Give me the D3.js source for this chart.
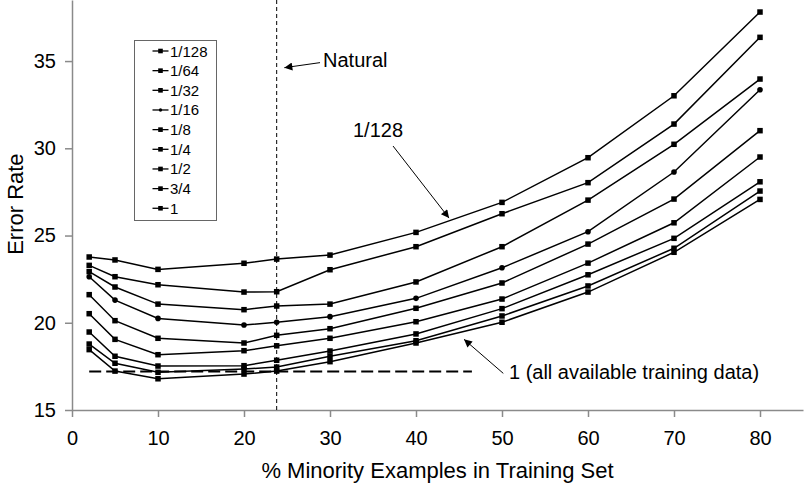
<!DOCTYPE html>
<html>
<head>
<meta charset="utf-8">
<script src="https://cdn.jsdelivr.net/npm/d3@7"></script>
<style>
  body { margin: 0; background: #fff; }
  svg { display: block; font-family: "Liberation Sans", Arial, sans-serif; }
</style>
</head>
<body>
<div id="chart"></div>
<script>
// % minority examples in the training set
var minorityPct = [2, 5, 10, 20, 23.8, 30, 40, 50, 60, 70, 80];

// fraction of available training data used
var seriesNames = ["1/128", "1/64", "1/32", "1/16", "1/8", "1/4", "1/2", "3/4", "1"];

var err_1_128 = [23.77, 23.60, 23.06, 23.41, 23.65, 23.88, 25.18, 26.90, 29.46, 33.01, 37.81];
var err_1_64  = [23.29, 22.64, 22.18, 21.76, 21.78, 23.04, 24.36, 26.25, 28.03, 31.39, 36.36];
var err_1_32  = [22.93, 22.05, 21.07, 20.75, 20.96, 21.07, 22.34, 24.36, 27.03, 30.23, 33.97];
var err_1_16  = [22.64, 21.30, 20.25, 19.87, 20.03, 20.35, 21.40, 23.15, 25.22, 28.64, 33.36];
var err_1_8   = [21.61, 20.12, 19.11, 18.84, 19.28, 19.66, 20.83, 22.28, 24.51, 27.09, 31.01];
var err_1_4   = [20.52, 19.05, 18.17, 18.40, 18.68, 19.11, 20.06, 21.36, 23.42, 25.73, 29.50];
var err_1_2   = [19.47, 18.08, 17.52, 17.54, 17.85, 18.38, 19.36, 20.81, 22.75, 24.84, 28.08];
var err_3_4   = [18.78, 17.68, 17.16, 17.35, 17.46, 18.08, 18.97, 20.39, 22.11, 24.27, 27.55];
var err_1     = [18.46, 17.23, 16.79, 17.06, 17.23, 17.77, 18.84, 20.03, 21.76, 24.04, 27.07];

var seriesValues = [err_1_128, err_1_64, err_1_32, err_1_16, err_1_8, err_1_4, err_1_2, err_3_4, err_1];

var xTicks = [0, 10, 20, 30, 40, 50, 60, 70, 80];
var yTicks = [15, 20, 25, 30, 35];

var naturalPct = 23.8;
var bestError = 17.2;          // "all available training data" reference level
var bestSpan = [2, 46.5];

var width = 804, height = 486;
var margin = { left: 72, right: 1, top: 0, bottom: 76 };

var svg = d3.select("#chart").append("svg")
    .attr("width", width)
    .attr("height", height);

var x = d3.scaleLinear()
    .domain([0, 85])
    .range([margin.left, width - margin.right]);

var y = d3.scaleLinear()
    .domain([15, 38.5])
    .range([height - margin.bottom, margin.top]);

var axisColor = "#8a8a8a";

// x axis
var gx = svg.append("g")
    .attr("transform", "translate(0," + y(15) + ")")
    .call(d3.axisBottom(x).tickValues(xTicks).tickSize(7).tickPadding(14).tickSizeOuter(0));
gx.select(".domain").attr("stroke", axisColor).attr("stroke-width", 1.5);
gx.selectAll(".tick line").attr("stroke", axisColor).attr("stroke-width", 1.5);
gx.selectAll(".tick text").attr("fill", "#000").style("font-size", "20px")
    .style("font-family", "Liberation Sans, Arial, sans-serif");

// y axis
var gy = svg.append("g")
    .attr("transform", "translate(" + x(0) + ",0)")
    .call(d3.axisLeft(y).tickValues(yTicks).tickSize(7).tickPadding(9).tickSizeOuter(0));
gy.select(".domain").attr("stroke", axisColor).attr("stroke-width", 1.5);
gy.selectAll(".tick line").attr("stroke", axisColor).attr("stroke-width", 1.5);
gy.selectAll(".tick text").attr("fill", "#000").style("font-size", "20px")
    .style("font-family", "Liberation Sans, Arial, sans-serif");

// axis titles
svg.append("text")
    .attr("x", (x(0) + x(85)) / 2 + 0).attr("y", 478)
    .attr("text-anchor", "middle")
    .style("font-size", "22px")
    .text("% Minority Examples in Training Set");

svg.append("text")
    .attr("transform", "translate(23," + y(26.8) + ") rotate(-90)")
    .attr("text-anchor", "middle")
    .style("font-size", "22px")
    .text("Error Rate");

// reference lines
svg.append("line")
    .attr("x1", x(naturalPct)).attr("x2", x(naturalPct))
    .attr("y1", y(15)).attr("y2", y(38.5))
    .attr("stroke", "#000").attr("stroke-width", 1)
    .attr("stroke-dasharray", "4,3");

svg.append("line")
    .attr("x1", x(bestSpan[0])).attr("x2", x(bestSpan[1]))
    .attr("y1", y(bestError)).attr("y2", y(bestError))
    .attr("stroke", "#000").attr("stroke-width", 2)
    .attr("stroke-dasharray", "12,5");

// series lines and markers
var line = d3.line()
    .x(function(d, i) { return x(minorityPct[i]); })
    .y(function(d) { return y(d); });

var series = svg.selectAll("g.series")
    .data(seriesValues)
    .enter().append("g")
    .attr("class", "series");

series.append("path")
    .attr("d", function(d) { return line(d); })
    .attr("fill", "none")
    .attr("stroke", "#000")
    .attr("stroke-width", 1.5);

var ms = 5.5;
series.each(function(vals, si) {
    var g = d3.select(this);
    if (seriesNames[si] === "1/16") {
        g.selectAll("circle").data(vals).enter().append("circle")
            .attr("cx", function(d, i) { return x(minorityPct[i]); })
            .attr("cy", function(d) { return y(d); })
            .attr("r", 2.8)
            .attr("fill", "#000");
    } else {
        g.selectAll("rect").data(vals).enter().append("rect")
            .attr("x", function(d, i) { return x(minorityPct[i]) - ms / 2; })
            .attr("y", function(d) { return y(d) - ms / 2; })
            .attr("width", ms).attr("height", ms)
            .attr("fill", "#000");
    }
});

// legend
var legend = svg.append("g").attr("transform", "translate(134,40)");
legend.append("rect")
    .attr("x", 0.5).attr("y", 0.5)
    .attr("width", 82).attr("height", 180)
    .attr("fill", "#fff")
    .attr("stroke", "#666").attr("stroke-width", 1);

var rows = legend.selectAll("g.row")
    .data(seriesNames)
    .enter().append("g")
    .attr("class", "row")
    .attr("transform", function(d, i) { return "translate(0," + (11 + i * 19.66) + ")"; });

rows.append("line")
    .attr("x1", 18.5).attr("x2", 34.5)
    .attr("stroke", "#000").attr("stroke-width", 1.3);

rows.append("rect")
    .attr("x", function(d) { return d === "1/16" ? 24.8 : 24.2; })
    .attr("y", function(d) { return d === "1/16" ? -1.7 : -2.3; })
    .attr("width", function(d) { return d === "1/16" ? 3.4 : 4.6; })
    .attr("height", function(d) { return d === "1/16" ? 3.4 : 4.6; })
    .attr("rx", function(d) { return d === "1/16" ? 1.7 : 0; })
    .attr("fill", "#000");

rows.append("text")
    .attr("x", 36).attr("y", 5.5)
    .style("font-size", "15px")
    .text(function(d) { return d; });

// annotations
svg.append("defs").append("marker")
    .attr("id", "arrow")
    .attr("viewBox", "0 0 10 10")
    .attr("refX", 10).attr("refY", 5)
    .attr("markerWidth", 11).attr("markerHeight", 8)
    .attr("markerUnits", "userSpaceOnUse")
    .attr("orient", "auto")
    .append("path")
    .attr("d", "M0,0 L10,5 L0,10 Z")
    .attr("fill", "#000");

var notes = [
    { text: "Natural", tx: 29.19, ty: 34.66, from: [28.84, 34.91], to: [24.69, 34.62] },
    { text: "1/128", tx: 32.67, ty: 30.65, from: [37.33, 30.13], to: [43.84, 26.0] },
    { text: "1 (all available training data)", tx: 50.81, ty: 16.78, from: [50.15, 17.10], to: [45.58, 19.05] }
];

notes.forEach(function(n) {
    svg.append("line")
        .attr("x1", x(n.from[0])).attr("y1", y(n.from[1]))
        .attr("x2", x(n.to[0])).attr("y2", y(n.to[1]))
        .attr("stroke", "#000").attr("stroke-width", 1)
        .attr("marker-end", "url(#arrow)");
    svg.append("text")
        .attr("x", x(n.tx)).attr("y", y(n.ty))
        .style("font-size", "20px")
        .text(n.text);
});
</script>
</body>
</html>
